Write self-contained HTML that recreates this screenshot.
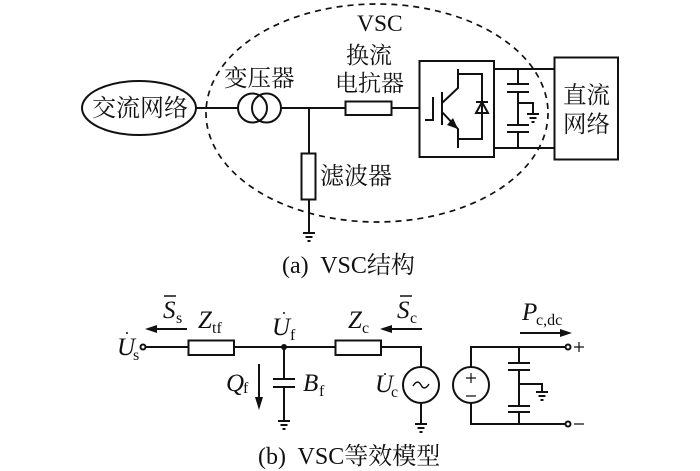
<!DOCTYPE html>
<html>
<head>
<meta charset="utf-8">
<style>
html,body{margin:0;padding:0;background:#fff}
svg{display:block}
.c{font-family:"Liberation Serif","Noto Serif CJK SC",serif;fill:#111}
.i{font-family:"Liberation Serif",serif;font-style:italic;font-size:25px;fill:#111}
.s{font-family:"Liberation Serif",serif;font-size:16px;fill:#111}
</style>
</head>
<body>
<svg width="700" height="471" viewBox="0 0 700 471" xmlns="http://www.w3.org/2000/svg">
<g fill="none" stroke="#111" stroke-width="2">
<ellipse cx="377" cy="113" rx="171" ry="109" stroke-dasharray="6 5" stroke-width="1.700"/>
<ellipse cx="139" cy="108" rx="57" ry="27"/>
<path d="M196 108H238M281 108H345M392 108H419M309 108V153M309 199V233"/>
<circle cx="252.500" cy="108" r="14.500"/>
<circle cx="266.500" cy="108" r="14.500"/>
<rect x="345.500" y="101.500" width="46" height="13.500"/>
<rect x="301.500" y="153.500" width="14" height="46"/>
<path d="M303 233H315M305.500 237H312.500M307.500 241H310.500"/>
<rect x="419.500" y="61" width="74.500" height="96"/>
<rect x="554.500" y="57.500" width="63.500" height="102"/>
<path d="M494 69H554M494 148H554"/>
<path d="M518 69V84M507 84H529M507 92H529M518 92V125M507 125H529M507 132H529M518 132V148M518 103H533V114M527 114H539M529.500 118H536.500M531.500 122H534.500"/>
<path d="M425 120H433V97M442 92V125M458 69V88L442 103M442 112L458 129V148M458 74H482V139H458"/>
<path d="M476 113H488L482 102ZM476 102H488M482 74V102M482 113V139"/>
</g>
<path d="M458 129L447 125L453 118Z" fill="#111"/>

<g fill="none" stroke="#111" stroke-width="2">
<circle cx="143" cy="347" r="2.500"/>
<path d="M146 347H188M234 347H335M381 347H421V367M421 403V424"/>
<rect x="188.500" y="340.500" width="45.500" height="14.500"/>
<rect x="335.500" y="340.500" width="45.500" height="14.500"/>
<path d="M284 347V379M273 379H295M273 387H295M284 387V421M278 421H290M280.500 425H287.500M282.500 429H285.500"/>
<path d="M415 424H427M417.500 428H424.500M419.500 432H422.500"/>
<circle cx="421" cy="385" r="18"/>
<circle cx="471" cy="385" r="18"/>
<path d="M471 367V347H565.500M471 403V424H565.500M519 347V363M508 363H530M508 370H530M519 370V406M508 406H530M508 412H530M519 412V424M519 384H542V392M536 392H548M538.500 396H545.500M540.500 400H543.500"/>
<circle cx="568" cy="347" r="2.500"/>
<circle cx="568" cy="424" r="2.500"/>
<path d="M187 329H155M422 329H390M520 333H562M259 364V398"/>
<path d="M164 296H176M400 296H412" stroke-width="1.500"/>
<path d="M574 347H584M579 342V352M574 424H584M466 378H476M471 373V383M466 396H476" stroke-width="1.200"/>
<path d="M413 386C416 381 419 381 421 385C423 389 426 389 429 384" stroke-width="1.400"/>
</g>
<circle cx="284" cy="347" r="3" fill="#111"/>
<path d="M145 329L157 325V333ZM380 329L392 325V333ZM572 333L560 329V337ZM259 410L255 397H263Z" fill="#111"/>
<circle cx="127" cy="333" r="1" fill="#111"/>
<circle cx="284" cy="313" r="1" fill="#111"/>
<circle cx="385" cy="374" r="1" fill="#111"/>

<text class="c" x="357" y="31" font-size="23.500">VSC</text>
<text class="c" x="346" y="63" font-size="23">换流</text>
<text class="c" x="335" y="91" font-size="23">电抗器</text>
<text class="c" x="224" y="86" font-size="23.500">变压器</text>
<text class="c" x="92" y="116" font-size="24">交流网络</text>
<text class="c" x="320" y="184" font-size="24">滤波器</text>
<text class="c" x="563" y="103" font-size="23.500">直流</text>
<text class="c" x="563" y="132" font-size="23.500">网络</text>
<text class="c" x="282" y="273" font-size="24" xml:space="preserve">(a)  VSC结构</text>
<text class="c" x="258" y="464" font-size="24" xml:space="preserve">(b)  VSC等效模型</text>

<text class="i" x="163" y="318">S</text><text class="s" x="176" y="323">s</text>
<text class="i" x="198" y="328">Z</text><text class="s" x="212" y="333">tf</text>
<text class="i" x="117" y="355">U</text><text class="s" x="133" y="360">s</text>
<text class="i" x="272" y="335">U</text><text class="s" x="290" y="340">f</text>
<text class="i" x="226" y="391">Q</text><text class="s" x="243" y="393">f</text>
<text class="i" x="303" y="391">B</text><text class="s" x="319" y="396">f</text>
<text class="i" x="348" y="328">Z</text><text class="s" x="362" y="333">c</text>
<text class="i" x="397" y="318">S</text><text class="s" x="410" y="323">c</text>
<text class="i" x="375" y="392">U</text><text class="s" x="391" y="397">c</text>
<text class="i" x="522" y="320">P</text><text class="s" x="536" y="325">c,dc</text>
</svg>
</body>
</html>
